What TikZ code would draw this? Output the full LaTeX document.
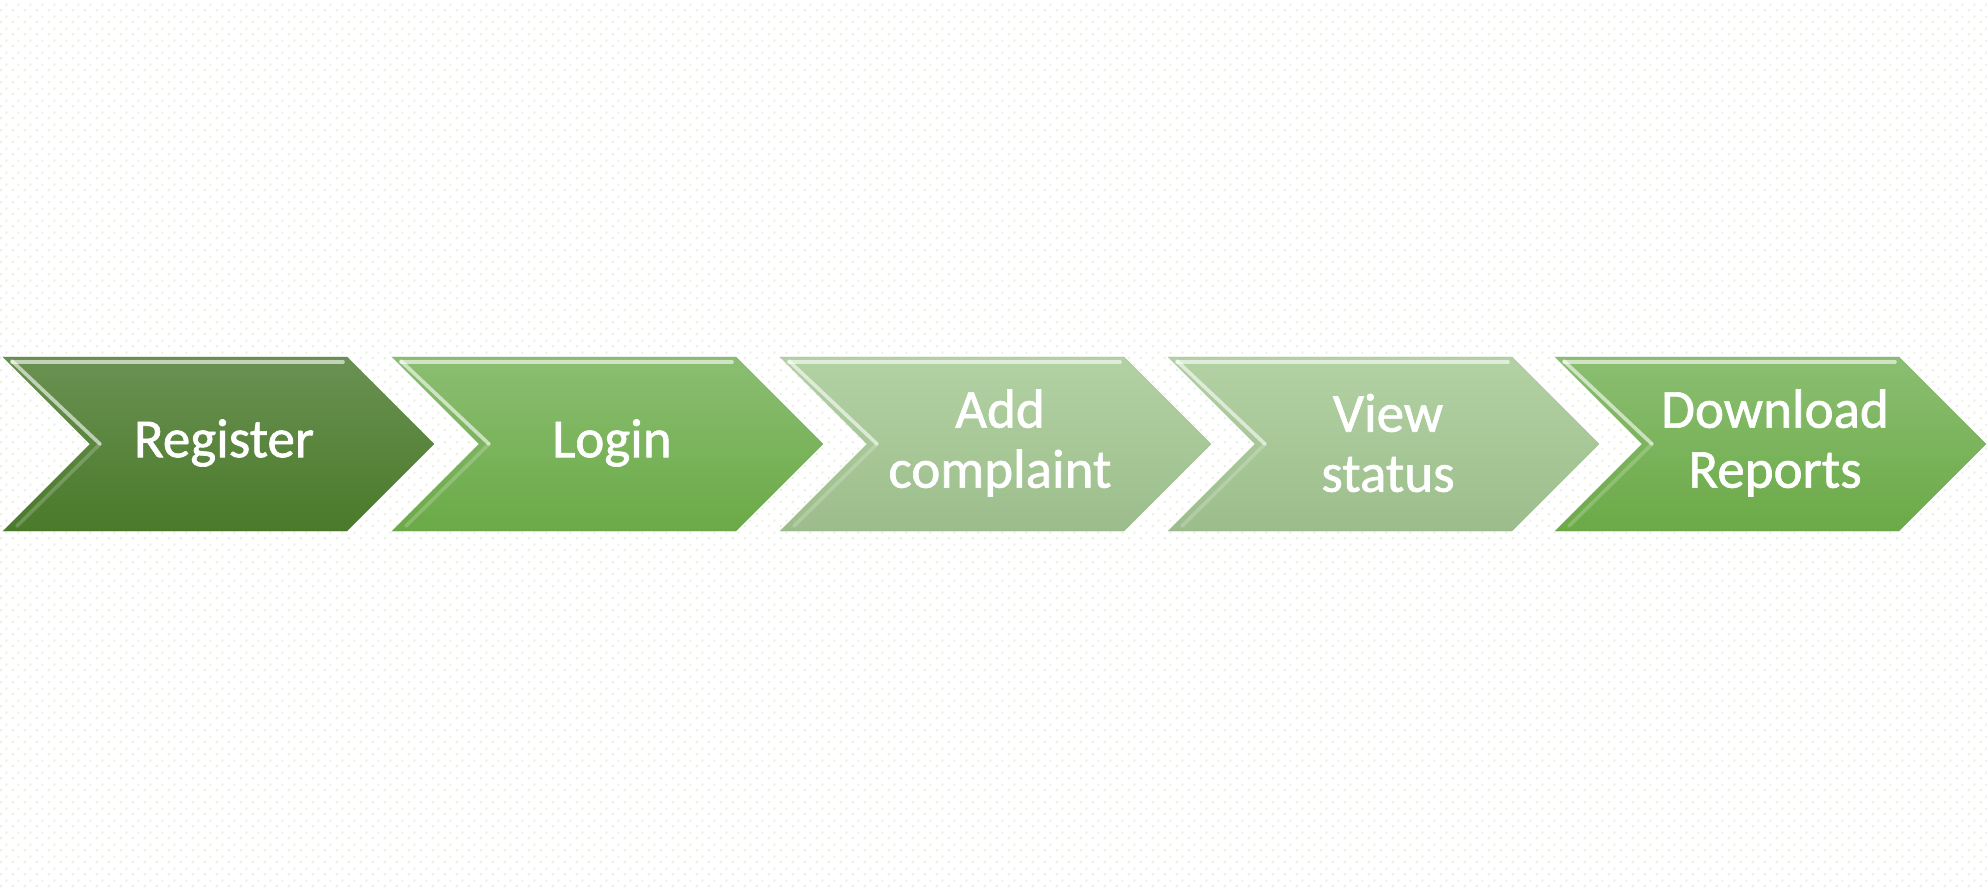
\documentclass[tikz,border=0pt]{standalone}
\usepackage{fontspec}
\setmainfont{Carlito}
\newfontfamily\lblfont{Carlito}[FakeBold=1.2]
\usetikzlibrary{patterns}
\definecolor{gAtop}{HTML}{6A9152}
\definecolor{gAbot}{HTML}{4A7A2A}
\definecolor{gBtop}{HTML}{8BBE72}
\definecolor{gBbot}{HTML}{6BAA47}
\definecolor{gCtop}{HTML}{B3D2A4}
\definecolor{gCbot}{HTML}{9CBD8B}
\definecolor{bgdot}{HTML}{E8F1E0}
\pgfdeclarepatterninherentlycolored{bgdots}{\pgfpointorigin}{\pgfpoint{6pt}{6pt}}{\pgfpoint{6pt}{6pt}}{%
  \pgfsetfillcolor{bgdot}%
  \pgfpathrectangle{\pgfpoint{0.5pt}{0.5pt}}{\pgfpoint{1pt}{1pt}}%
  \pgfpathrectangle{\pgfpoint{3.5pt}{3.5pt}}{\pgfpoint{1pt}{1pt}}%
  \pgfusepath{fill}%
}
\newcommand{\mychev}[3]{%
  \shade[top color=#2, bottom color=#3]
    (#1,357) -- (#1+344,357) -- (#1+431,444) -- (#1+344,531) -- (#1,531) -- (#1+87,444) -- cycle;
  \draw[#3!90!black, line width=0.3pt, opacity=0.35]
    (#1,357) -- (#1+344,357) -- (#1+431,444) -- (#1+344,531) -- (#1,531) -- (#1+87,444) -- cycle;
  \draw[hilite] (#1+9,361) -- (#1+97,444);
  \draw[hilite] (#1+9,362) -- (#1+340,362);
  \draw[hilite, opacity=0.2] (#1+97,444) -- (#1+14,526);
}
\tikzset{
  hilite/.style={white, opacity=0.6, line width=1.8pt, line cap=round},
  lbl/.style={text=white, font=\lblfont\fontsize{27.5}{30}\selectfont, align=center, inner sep=0pt}
}
\begin{document}
\begin{tikzpicture}[x=0.5pt,y=-0.5pt]
\useasboundingbox (0,0) rectangle (1987,888);
\fill[white] (0,0) rectangle (1987,888);
\fill[pattern=bgdots] (0,0) rectangle (1987,888);
\mychev{3}{gAtop}{gAbot}
\mychev{392}{gBtop}{gBbot}
\mychev{780}{gCtop}{gCbot}
\mychev{1168}{gCtop}{gCbot}
\mychev{1555}{gBtop}{gBbot}
\node[lbl] (register) at (224,443) {Register};
\node[lbl] (login) at (612,443) {Login};
\node[lbl] (add) at (1000,443) {Add\\complaint};
\node[lbl] (view) at (1388,443) {View\\status};
\node[lbl] (download) at (1775,443) {Download\\Reports};
\end{tikzpicture}
\end{document}
